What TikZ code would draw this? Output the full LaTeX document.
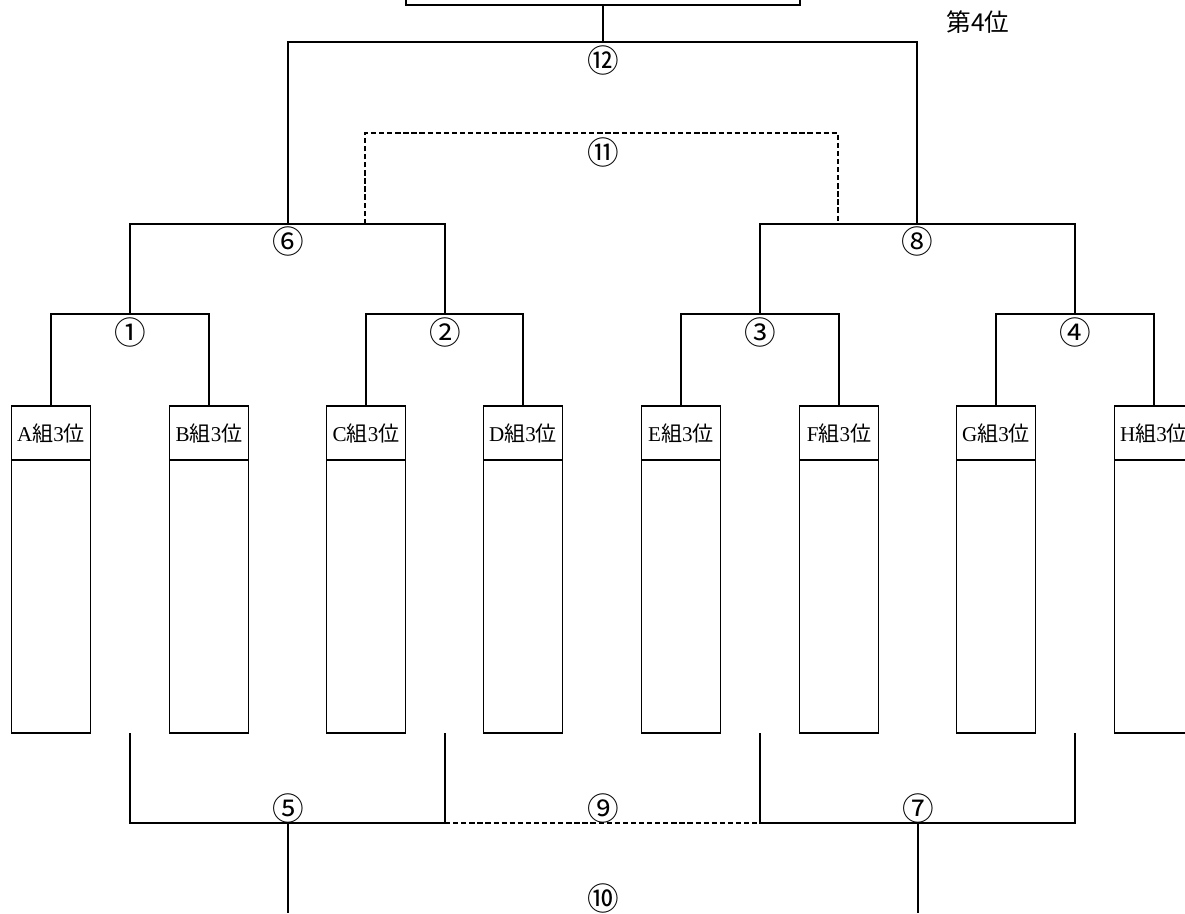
\documentclass[tikz,border=0pt]{standalone}
\usepackage{fontspec}
\setmainfont{Liberation Serif}
\newfontfamily\jp{Noto Sans CJK JP}
\usetikzlibrary{positioning}
\tikzset{
  team/.style={draw,outer sep=0,inner sep=0,minimum width=1.58cm,minimum height=1.08cm,
    font=\fontsize{12}{14}\selectfont},
  slot/.style={draw,outer sep=0,inner sep=0,minimum width=1.58cm,minimum height=5.46cm},
  num/.style={inner sep=0,font=\jp\fontsize{18}{20}\selectfont},
  extra/.style={dash pattern=on 3pt off 1.6pt}
}
\begin{document}
\begin{tikzpicture}[x=0.02cm,y=-0.02cm,line width=1.1pt]
\useasboundingbox (0,0) rectangle (1185,913);
%final box
\node[draw,outer sep=0,minimum width=7.88cm,minimum height=1.2cm] (final) at (603,-25) {};
\node[font=\jp\fontsize{14}{16}\selectfont] (fourth) at (978,22) {第4位};
%teams
\foreach \g/\x in {A/51,B/209,C/366,D/523,E/681,F/839,G/996,H/1154}{
\node[team] (t\g) at (\x,433) {\g{\jp 組}3{\jp 位}};
\node[slot,below=0pt of t\g] (s\g) {};
}
%junctions
\coordinate (j1) at (130,314);
\coordinate (j2) at (445,314);
\coordinate (j3) at (760,314);
\coordinate (j4) at (1075,314);
\coordinate (j6) at (288,224);
\coordinate (j8) at (917,224);
\coordinate (j12) at (603,42);
\coordinate (d6) at (365,224);
\coordinate (d8) at (838,224);
\coordinate (j11) at (603,133);
%upper rounds
\draw (tA.north) |- (j1) -| (tB.north);
\draw (tC.north) |- (j2) -| (tD.north);
\draw (tE.north) |- (j3) -| (tF.north);
\draw (tG.north) |- (j4) -| (tH.north);
\draw (j1) |- (j6) -| (j2);
\draw (j3) |- (j8) -| (j4);
\draw (j6) |- (j12) -| (j8);
\draw (j12) -- (final.south);
\draw[extra] (d6) |- (j11) -| (d8);
%lower rounds
\coordinate (u1) at (130,733);
\coordinate (u2) at (445,733);
\coordinate (u3) at (760,733);
\coordinate (u4) at (1075,733);
\coordinate (k5) at (288,823);
\coordinate (k7) at (918,823);
\coordinate (f5) at (288,913);
\coordinate (f7) at (918,913);
\draw (u1) |- (k5) -| (u2);
\draw (u3) |- (k7) -| (u4);
\draw (k5) -- (f5);
\draw (k7) -- (f7);
\draw[extra] (u2 |- k5) -- (u3 |- k7);
%labels
\node[num] (n1) at (130,332) {①};
\node[num] (n2) at (445,332) {②};
\node[num] (n3) at (760,332) {③};
\node[num] (n4) at (1075,332) {④};
\node[num] (n6) at (288,241) {⑥};
\node[num] (n8) at (917,241) {⑧};
\node[num] (n11) at (603,152) {⑪};
\node[num] (n12) at (603,60) {⑫};
\node[num] (n5) at (288,808) {⑤};
\node[num] (n7) at (918,808) {⑦};
\node[num] (n9) at (603,808) {⑨};
\node[num] (n10) at (603,898) {⑩};
\end{tikzpicture}
\end{document}
